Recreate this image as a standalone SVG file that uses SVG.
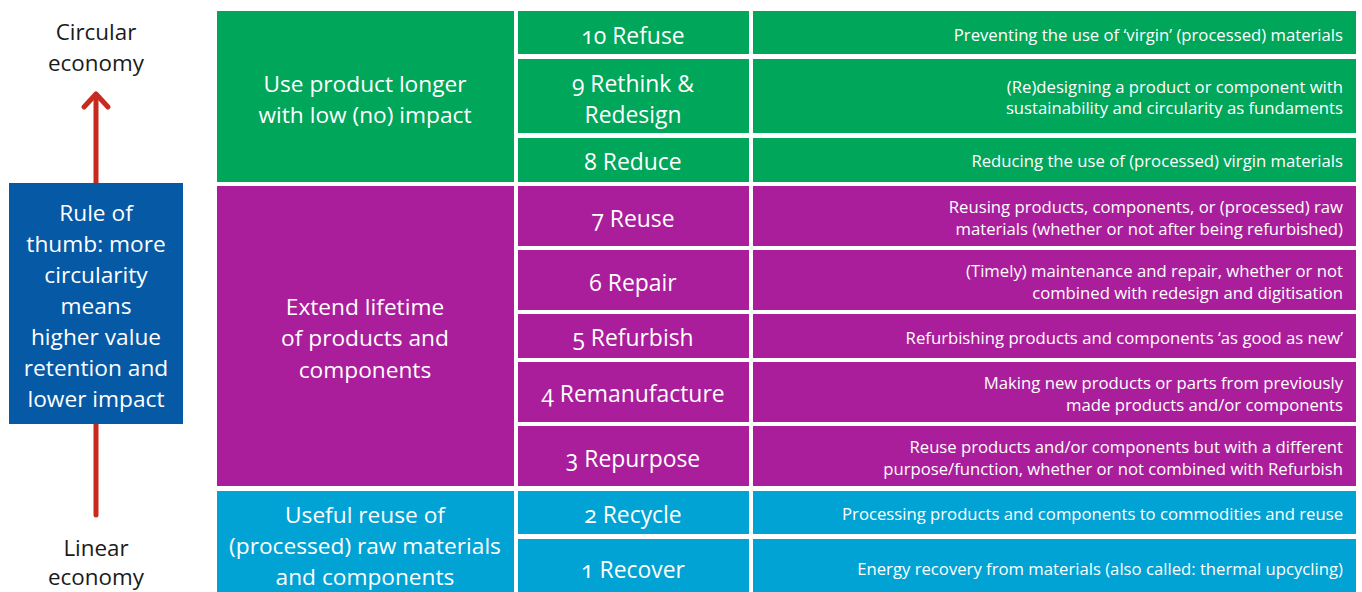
<svg xmlns="http://www.w3.org/2000/svg" width="1362" height="592" viewBox="0 0 1362 592">
<style>
  .g{fill:#00a65a}
  .p{fill:#aa1e9c}
  .b{fill:#00a3d4}
  .t{font-family:"Open Sans","Noto Sans","Liberation Sans",sans-serif;fill:#fff;text-anchor:middle;font-variant-numeric:oldstyle-nums}
  .big{font-size:22.7px}
  .mid{font-size:22.9px}
  .d{font-family:"Open Sans","Noto Sans","Liberation Sans",sans-serif;fill:#fff;font-size:16.7px;text-anchor:end}
  .k{font-family:"Open Sans","Noto Sans","Liberation Sans",sans-serif;fill:#1a1a1a;font-size:22.4px;text-anchor:middle}
</style>
<rect width="1362" height="592" fill="#fff"/>

<g id="connectors">
  <line x1="96" y1="515" x2="96" y2="95" stroke="#c92a1f" stroke-width="5" stroke-linecap="round"/>
  <polyline points="84,107 96,94 108,107" fill="none" stroke="#c92a1f" stroke-width="5" stroke-linecap="round" stroke-linejoin="round"/>
</g>

<g id="label-circular">
  <text class="k" x="96" y="40">Circular</text>
  <text class="k" x="96" y="71">economy</text>
</g>
<g id="label-linear">
  <text class="k" x="96" y="556">Linear</text>
  <text class="k" x="96" y="585">economy</text>
</g>

<g id="rule-of-thumb">
  <rect x="9" y="183" width="174" height="241" fill="#0659a5"/>
  <text class="t big" x="96" y="221">Rule of</text>
  <text class="t big" x="96" y="252">thumb: more</text>
  <text class="t big" x="96" y="283">circularity</text>
  <text class="t big" x="96" y="314">means</text>
  <text class="t big" x="96" y="345">higher value</text>
  <text class="t big" x="96" y="376">retention and</text>
  <text class="t big" x="96" y="407">lower impact</text>
</g>

<g id="group-green">
  <rect class="g" x="217" y="11" width="297" height="171"/>
  <text class="t big" x="365" y="92">Use product longer</text>
  <text class="t big" x="365" y="123">with low (no) impact</text>
</g>
<g id="group-purple">
  <rect class="p" x="217" y="186" width="297" height="300"/>
  <text class="t big" x="365" y="315">Extend lifetime</text>
  <text class="t big" x="365" y="346">of products and</text>
  <text class="t big" x="365" y="378">components</text>
</g>
<g id="group-blue">
  <rect class="b" x="217" y="491" width="297" height="101"/>
  <text class="t big" x="365" y="523">Useful reuse of</text>
  <text class="t big" x="365" y="554">(processed) raw materials</text>
  <text class="t big" x="365" y="585">and components</text>
</g>

<g id="r10">
  <rect class="g" x="518" y="11" width="231" height="43"/>
  <rect class="g" x="753" y="11" width="603" height="43"/>
  <text class="t mid" x="633" y="44">10 Refuse</text>
  <text class="d" x="1343" y="41">Preventing the use of ‘virgin’ (processed) materials</text>
</g>
<g id="r9">
  <rect class="g" x="518" y="59" width="231" height="74"/>
  <rect class="g" x="753" y="59" width="603" height="74"/>
  <text class="t mid" x="633" y="92">9 Rethink &amp;</text>
  <text class="t mid" x="633" y="123">Redesign</text>
  <text class="d" x="1343" y="93">(Re)designing a product or component with</text>
  <text class="d" x="1343" y="114">sustainability and circularity as fundaments</text>
</g>
<g id="r8">
  <rect class="g" x="518" y="138" width="231" height="44"/>
  <rect class="g" x="753" y="138" width="603" height="44"/>
  <text class="t mid" x="633" y="170">8 Reduce</text>
  <text class="d" x="1343" y="167">Reducing the use of (processed) virgin materials</text>
</g>
<g id="r7">
  <rect class="p" x="518" y="186" width="231" height="60"/>
  <rect class="p" x="753" y="186" width="603" height="60"/>
  <text class="t mid" x="633" y="227">7 Reuse</text>
  <text class="d" x="1343" y="213">Reusing products, components, or (processed) raw</text>
  <text class="d" x="1343" y="235">materials (whether or not after being refurbished)</text>
</g>
<g id="r6">
  <rect class="p" x="518" y="250" width="231" height="60"/>
  <rect class="p" x="753" y="250" width="603" height="60"/>
  <text class="t mid" x="633" y="291">6 Repair</text>
  <text class="d" x="1343" y="277">(Timely) maintenance and repair, whether or not</text>
  <text class="d" x="1343" y="299">combined with redesign and digitisation</text>
</g>
<g id="r5">
  <rect class="p" x="518" y="314" width="231" height="44"/>
  <rect class="p" x="753" y="314" width="603" height="44"/>
  <text class="t mid" x="633" y="346">5 Refurbish</text>
  <text class="d" x="1343" y="344">Refurbishing products and components ‘as good as new’</text>
</g>
<g id="r4">
  <rect class="p" x="518" y="362" width="231" height="60"/>
  <rect class="p" x="753" y="362" width="603" height="60"/>
  <text class="t mid" x="633" y="402">4 Remanufacture</text>
  <text class="d" x="1343" y="389">Making new products or parts from previously</text>
  <text class="d" x="1343" y="411">made products and/or components</text>
</g>
<g id="r3">
  <rect class="p" x="518" y="426" width="231" height="60"/>
  <rect class="p" x="753" y="426" width="603" height="60"/>
  <text class="t mid" x="633" y="467">3 Repurpose</text>
  <text class="d" x="1343" y="453">Reuse products and/or components but with a different</text>
  <text class="d" x="1343" y="475">purpose/function, whether or not combined with Refurbish</text>
</g>
<g id="r2">
  <rect class="b" x="518" y="491" width="231" height="43"/>
  <rect class="b" x="753" y="491" width="603" height="43"/>
  <text class="t mid" x="633" y="523">2 Recycle</text>
  <text class="d" x="1343" y="520">Processing products and components to commodities and reuse</text>
</g>
<g id="r1">
  <rect class="b" x="518" y="539" width="231" height="53"/>
  <rect class="b" x="753" y="539" width="603" height="53"/>
  <text class="t mid" x="633" y="578">1 Recover</text>
  <text class="d" x="1343" y="575">Energy recovery from materials (also called: thermal upcycling)</text>
</g>
</svg>
